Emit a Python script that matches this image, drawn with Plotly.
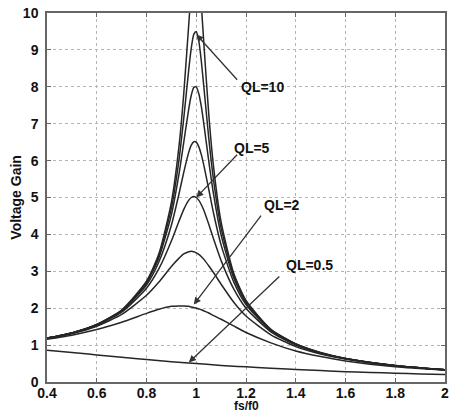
import plotly.graph_objects as go

# Normalised switching frequency samples (denser around resonance)
fn = [0.4, 0.5, 0.6, 0.7, 0.8, 0.85, 0.9, 0.93, 0.95, 0.97, 0.98, 0.99, 1.0,
      1.01, 1.02, 1.03, 1.05, 1.07, 1.1, 1.15, 1.2, 1.3, 1.4, 1.5, 1.6, 1.8, 2.0]

# Voltage gain for each load quality factor
gain_q2 = [1.16, 1.27, 1.42, 1.62, 1.86, 1.97, 2.05, 2.06, 2.06, 2.05, 2.03, 2.02, 2.0,
           1.98, 1.96, 1.93, 1.87, 1.80, 1.70, 1.52, 1.34, 1.06, 0.84, 0.69, 0.57, 0.41, 0.32]
gain_q35 = [1.18, 1.31, 1.51, 1.83, 2.35, 2.71, 3.13, 3.35, 3.47, 3.53, 3.54, 3.53, 3.5,
            3.46, 3.40, 3.33, 3.15, 2.96, 2.65, 2.17, 1.79, 1.28, 0.96, 0.76, 0.62, 0.44, 0.33]
gain_q5 = [1.19, 1.32, 1.54, 1.89, 2.54, 3.07, 3.82, 4.35, 4.68, 4.93, 5.0, 5.03, 5.0,
           4.93, 4.81, 4.66, 4.28, 3.87, 3.29, 2.53, 2.0, 1.36, 1.0, 0.78, 0.63, 0.44, 0.33]
gain_q65 = [1.19, 1.33, 1.55, 1.92, 2.63, 3.26, 4.25, 5.08, 5.69, 6.23, 6.42, 6.51, 6.5,
            6.38, 6.17, 5.89, 5.23, 4.56, 3.71, 2.72, 2.10, 1.39, 1.02, 0.79, 0.63, 0.44, 0.33]
gain_q8 = [1.19, 1.33, 1.55, 1.93, 2.68, 3.37, 4.53, 5.61, 6.51, 7.41, 7.77, 7.98, 8.0,
           7.82, 7.48, 7.02, 6.00, 5.07, 3.98, 2.83, 2.15, 1.41, 1.03, 0.79, 0.64, 0.44, 0.33]
gain_q95 = [1.19, 1.33, 1.56, 1.94, 2.71, 3.43, 4.71, 5.99, 7.16, 8.48, 9.05, 9.42, 9.5,
            9.25, 8.72, 8.04, 6.63, 5.45, 4.17, 2.90, 2.18, 1.42, 1.03, 0.79, 0.64, 0.45, 0.33]
gain_q115 = [1.19, 1.33, 1.56, 1.95, 2.73, 3.48, 4.87, 6.35, 7.83, 9.71, 10.64, 11.3, 11.5,
             11.1, 10.26, 9.23, 7.28, 5.81, 4.33, 2.96, 2.21, 1.43, 1.03, 0.80, 0.64, 0.45, 0.33]

# Light-load curve sampled on a uniform grid
fn_low = [0.4, 0.5, 0.6, 0.7, 0.8, 0.9, 1.0, 1.1, 1.2, 1.3, 1.4, 1.5, 1.6, 1.7, 1.8, 1.9, 2.0]
gain_q05 = [0.86, 0.80, 0.735, 0.67, 0.61, 0.55, 0.50, 0.45, 0.41, 0.37, 0.34, 0.31, 0.28,
            0.26, 0.24, 0.22, 0.20]

x_ticks = [0.4, 0.6, 0.8, 1, 1.2, 1.4, 1.6, 1.8, 2]
x_tick_text = ["0.4", "0.6", "0.8", "1", "1.2", "1.4", "1.6", "1.8", "2"]
y_ticks = list(range(0, 11))

# Curve labels: (text, text x, text y, arrow tail x, arrow tail y, tip x, tip y)
labels = [
    ("QL=10", 1.265, 8.0, 1.17, 8.15, 1.0, 9.42),
    ("QL=5", 1.225, 6.35, 1.17, 6.2, 1.0, 5.0),
    ("QL=2", 1.345, 4.8, 1.265, 4.55, 0.99, 2.1),
    ("QL=0.5", 1.455, 3.17, 1.34, 2.9, 0.97, 0.53),
]

LINE = "#262626"
FONT = "Liberation Sans, Arial, sans-serif"
TXT = "#111111"

fig = go.Figure()
for ys in [gain_q2, gain_q35, gain_q5, gain_q65, gain_q8, gain_q95, gain_q115]:
    fig.add_trace(go.Scatter(x=fn, y=ys, mode="lines",
                             line=dict(color=LINE, width=1.5, shape="spline", smoothing=0.6),
                             showlegend=False, hoverinfo="skip"))
fig.add_trace(go.Scatter(x=fn_low, y=gain_q05, mode="lines",
                         line=dict(color=LINE, width=1.5, shape="spline"),
                         showlegend=False, hoverinfo="skip"))

for text, tx, ty, ax, ay, px, py in labels:
    fig.add_annotation(x=px, y=py, ax=ax, ay=ay, xref="x", yref="y", axref="x", ayref="y",
                       text="", showarrow=True, arrowhead=2, arrowsize=1.1,
                       arrowwidth=1.3, arrowcolor="#333333")
    fig.add_annotation(x=tx, y=ty, xref="x", yref="y", text=text, showarrow=False,
                       font=dict(family=FONT, size=14, color=TXT, weight="bold"))

# Axis titles placed by hand in the margins
fig.add_annotation(x=1.2, xref="x", y=-0.087, yref="paper", yanchor="bottom",
                   xanchor="center", text="fs/f0", showarrow=False, borderpad=0,
                   font=dict(family=FONT, size=12, color=TXT, weight="bold"))
fig.add_annotation(x=-0.08, xref="paper", y=0.5, yref="paper", textangle=-90,
                   xanchor="center", yanchor="middle",
                   text="Voltage Gain", showarrow=False,
                   font=dict(family=FONT, size=14, color=TXT, weight="bold"))

axis_common = dict(
    showline=True, mirror="ticks", linecolor="#666666", linewidth=1.5,
    showgrid=True, gridcolor="#b5b5b5", griddash="dot", gridwidth=1,
    ticks="inside", ticklen=4, tickcolor="#666666", zeroline=False,
    ticklabeloverflow="allow",
    tickfont=dict(family=FONT, size=14, color=TXT, weight="bold"),
)

fig.update_xaxes(range=[0.4, 2], tickvals=x_ticks, ticktext=x_tick_text,
                 ticklabelstandoff=-3, **axis_common)
fig.update_yaxes(range=[0, 10], tickvals=y_ticks, ticklabelstandoff=4, **axis_common)

fig.update_layout(width=451, height=414, margin=dict(l=47, r=2, t=13, b=32),
                  paper_bgcolor="white", plot_bgcolor="white")

fig.write_html("out.html")
